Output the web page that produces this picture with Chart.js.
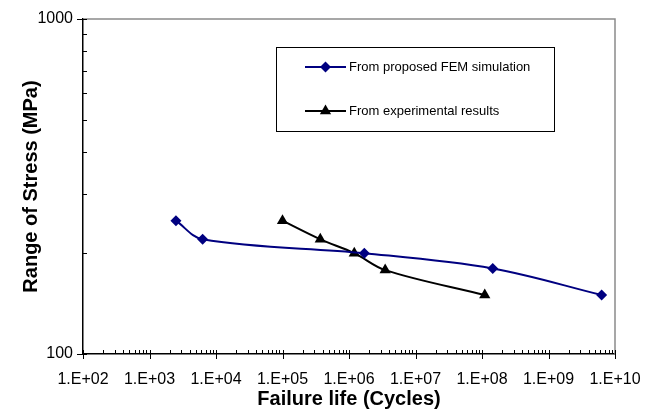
<!DOCTYPE html>
<html>
<head>
<meta charset="utf-8">
<title>S-N curve</title>
<script src="https://cdn.jsdelivr.net/npm/chart.js@4.4.1/dist/chart.umd.min.js"></script>
<style>
  html, body { margin: 0; padding: 0; background: #fff; }
</style>
</head>
<body>
<canvas id="myChart" width="652" height="411"></canvas>
<script>
// cycles to failure vs. stress range (MPa)
const femCycles = [2500, 6300, 1.7e6, 1.45e8, 6.3e9];
const femStress = [250, 220, 200, 180, 150];
const expCycles = [1.0e5, 3.7e5, 1.2e6, 3.5e6, 1.1e8];
const expStress = [250, 220, 200, 178, 150];

const xTickValues = [1e2, 1e3, 1e4, 1e5, 1e6, 1e7, 1e8, 1e9, 1e10];
const xTickLabels = ['1.E+02', '1.E+03', '1.E+04', '1.E+05', '1.E+06', '1.E+07', '1.E+08', '1.E+09', '1.E+10'];
const yTickValues = [100, 1000];
const yTickLabels = ['100', '1000'];

const FONT = "'Liberation Sans', Arial, sans-serif";

const toPoints = (xs, ys) => xs.map((x, i) => ({ x: x, y: ys[i] }));

// grey frame on top/right + log tick marks (minor ticks point inwards)
const frameAndTicks = {
  id: 'frameAndTicks',
  afterDraw(chart) {
    const { ctx, chartArea: a, scales: { x, y } } = chart;
    ctx.save();
    ctx.strokeStyle = '#8a8a8a';
    ctx.lineWidth = 1.5;
    ctx.beginPath();
    ctx.moveTo(a.left, a.top);
    ctx.lineTo(a.right, a.top);
    ctx.lineTo(a.right, a.bottom);
    ctx.stroke();

    ctx.strokeStyle = '#000';
    ctx.lineWidth = 1;
    ctx.beginPath();
    for (let e = 2; e <= 10; e++) {
      for (let m = 1; m <= 9; m++) {
        const v = m * Math.pow(10, e);
        if (v > 1e10) break;
        const px = Math.round(x.getPixelForValue(v)) + 0.5;
        if (m === 1) {
          ctx.moveTo(px, a.bottom - 4);
          ctx.lineTo(px, a.bottom + 5);
        } else {
          ctx.moveTo(px, a.bottom);
          ctx.lineTo(px, a.bottom - 4);
        }
      }
    }
    for (let m = 1; m <= 10; m++) {
      const v = m * 100;
      const py = Math.round(y.getPixelForValue(v)) + 0.5;
      if (m === 1 || m === 10) {
        ctx.moveTo(a.left - 6, py);
        ctx.lineTo(a.left + 4, py);
      } else {
        ctx.moveTo(a.left, py);
        ctx.lineTo(a.left + 4, py);
      }
    }
    ctx.stroke();
    ctx.restore();
  }
};

// boxed legend inside the plot area
const boxLegend = {
  id: 'boxLegend',
  afterDraw(chart, args, opts) {
    const { ctx } = chart;
    ctx.save();
    ctx.fillStyle = '#fff';
    ctx.fillRect(opts.left, opts.top, opts.width, opts.height);
    ctx.strokeStyle = '#000';
    ctx.lineWidth = 1;
    ctx.strokeRect(opts.left + 0.5, opts.top + 0.5, opts.width, opts.height);

    chart.data.datasets.forEach((ds, i) => {
      const yy = opts.rowY[i];
      ctx.strokeStyle = ds.borderColor;
      ctx.lineWidth = ds.borderWidth;
      ctx.beginPath();
      ctx.moveTo(opts.lineX0, yy);
      ctx.lineTo(opts.lineX1, yy);
      ctx.stroke();

      ctx.fillStyle = ds.pointBackgroundColor;
      ctx.strokeStyle = ds.pointBorderColor;
      Chart.helpers.drawPoint(ctx, {
        pointStyle: ds.pointStyle,
        radius: ds.pointRadius,
        rotation: 0,
        borderWidth: 0
      }, (opts.lineX0 + opts.lineX1) / 2, yy);

      ctx.fillStyle = '#000';
      ctx.font = '13px ' + FONT;
      ctx.textAlign = 'left';
      ctx.textBaseline = 'middle';
      ctx.fillText(ds.label, opts.textX, yy);
    });
    ctx.restore();
  }
};

const config = {
  type: 'line',
  data: {
    datasets: [
      {
        label: 'From proposed FEM simulation',
        data: toPoints(femCycles, femStress),
        borderColor: '#000080',
        backgroundColor: '#000080',
        pointBackgroundColor: '#000080',
        pointBorderColor: '#000080',
        pointStyle: 'rectRot',
        pointRadius: 5.5,
        pointBorderWidth: 0,
        borderWidth: 2,
        tension: 0.35
      },
      {
        label: 'From experimental results',
        data: toPoints(expCycles, expStress),
        borderColor: '#000',
        backgroundColor: '#000',
        pointBackgroundColor: '#000',
        pointBorderColor: '#000',
        pointStyle: 'triangle',
        pointRadius: 6.5,
        pointBorderWidth: 0,
        borderWidth: 2,
        tension: 0.35
      }
    ]
  },
  options: {
    responsive: false,
    animation: false,
    devicePixelRatio: 1,
    layout: { padding: { left: 0, top: 19, right: 37, bottom: 0 } },
    plugins: {
      legend: { display: false },
      tooltip: { enabled: false },
      boxLegend: {
        left: 276, top: 47, width: 278, height: 84,
        rowY: [67, 111], lineX0: 305, lineX1: 346, textX: 349
      }
    },
    scales: {
      x: {
        type: 'logarithmic',
        min: 1e2,
        max: 1e10,
        afterBuildTicks: s => { s.ticks = xTickValues.map(v => ({ value: v })); },
        afterFit: s => {
          s.height = 57;
          // end labels may hang past the plot edges
          s.paddingLeft = 0;
          s.paddingRight = 0;
        },
        grid: { drawOnChartArea: false, drawTicks: false },
        border: { color: '#000', width: 1.5 },
        ticks: {
          autoSkip: false,
          maxRotation: 0,
          padding: 16,
          color: '#000',
          font: { family: FONT, size: 16 },
          callback: (v, i) => xTickLabels[i]
        },
        title: {
          display: true,
          text: 'Failure life (Cycles)',
          color: '#000',
          font: { family: FONT, size: 20, weight: 'bold' },
          padding: { top: 0, bottom: 0 }
        }
      },
      y: {
        type: 'logarithmic',
        min: 100,
        max: 1000,
        afterBuildTicks: s => { s.ticks = yTickValues.map(v => ({ value: v })); },
        afterFit: s => {
          s.width = 83;
          s.paddingTop = 0;
          s.paddingBottom = 0;
        },
        grid: { drawOnChartArea: false, drawTicks: false },
        border: { color: '#000', width: 1.5 },
        ticks: {
          padding: 10,
          color: '#000',
          font: { family: FONT, size: 16 },
          callback: (v, i) => yTickLabels[i]
        },
        title: {
          display: true,
          text: 'Range of Stress (MPa)',
          color: '#000',
          font: { family: FONT, size: 20, weight: 'bold' },
          padding: { top: 19, bottom: 0 }
        }
      }
    }
  },
  plugins: [frameAndTicks, boxLegend]
};

const myChart = new Chart(document.getElementById('myChart'), config);
</script>
</body>
</html>
